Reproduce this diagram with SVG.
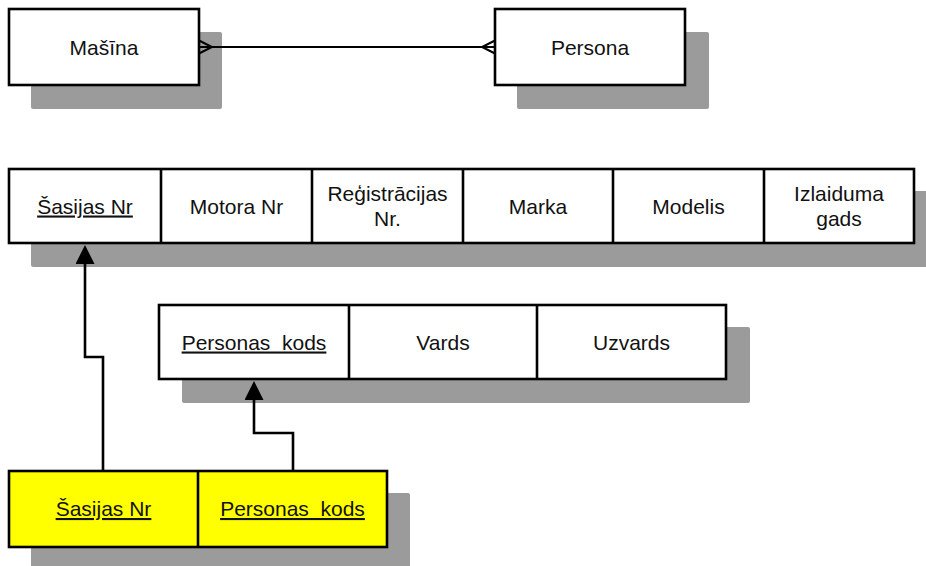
<svg xmlns="http://www.w3.org/2000/svg" width="926" height="566" viewBox="0 0 926 566">
<style>
.sh{fill:#9b9b9b;}
.bx{fill:#ffffff;stroke:#000;stroke-width:2.6;}
.yl{fill:#ffff00;stroke:#000;stroke-width:2.6;}
.dv{stroke:#000;stroke-width:2.6;}
.t{font-family:"Liberation Sans",Arial,sans-serif;font-size:21px;fill:#111;text-anchor:middle;}
.u{text-decoration:underline;}
.cn{fill:none;stroke:#000;stroke-width:2.6;}
.rl{fill:none;stroke:#000;stroke-width:2;}
</style>
<defs>
<marker id="arr" markerUnits="userSpaceOnUse" markerWidth="20" markerHeight="20" refX="0" refY="9.5" orient="auto">
<path d="M0,0 L19,9.5 L0,19 Z" fill="#000"/>
</marker>
</defs>
<rect width="926" height="566" fill="#fff"/>

<g id="masina">
<rect class="sh" x="31" y="32" width="191" height="77" rx="2"/>
<rect class="bx" x="9" y="9" width="190" height="76"/>
<text class="t" x="104" y="54.5">Mašīna</text>
</g>

<g id="persona">
<rect class="sh" x="517" y="32" width="192" height="77" rx="2"/>
<rect class="bx" x="495" y="9" width="190" height="76"/>
<text class="t" x="590" y="54.5">Persona</text>
</g>

<g id="masina-table">
<rect class="sh" x="31" y="191" width="905" height="76" rx="2"/>
<rect class="bx" x="9" y="169" width="905" height="74"/>
<line class="dv" x1="161" y1="169" x2="161" y2="243"/>
<line class="dv" x1="312" y1="169" x2="312" y2="243"/>
<line class="dv" x1="463" y1="169" x2="463" y2="243"/>
<line class="dv" x1="613" y1="169" x2="613" y2="243"/>
<line class="dv" x1="764" y1="169" x2="764" y2="243"/>
<text class="t u" x="85" y="213.5">Šasijas Nr</text>
<text class="t" x="236.5" y="213.5">Motora Nr</text>
<text class="t" x="387.5" y="200.5">Reģistrācijas</text>
<text class="t" x="387.5" y="225.5">Nr.</text>
<text class="t" x="538" y="213.5">Marka</text>
<text class="t" x="688.5" y="213.5">Modelis</text>
<text class="t" x="839" y="200.5">Izlaiduma</text>
<text class="t" x="839" y="225.5">gads</text>
</g>

<g id="persona-table">
<rect class="sh" x="182" y="327" width="568" height="76" rx="2"/>
<rect class="bx" x="159" y="305" width="567" height="74"/>
<line class="dv" x1="349" y1="305" x2="349" y2="379"/>
<line class="dv" x1="537" y1="305" x2="537" y2="379"/>
<text class="t u" x="254" y="349.5" xml:space="preserve">Personas  kods</text>
<text class="t" x="443" y="349.5">Vards</text>
<text class="t" x="631.5" y="349.5">Uzvards</text>
</g>

<g id="link-table">
<rect class="sh" x="31" y="493" width="379" height="76" rx="2"/>
<rect class="yl" x="9" y="471" width="378" height="76"/>
<line class="dv" x1="198" y1="471" x2="198" y2="547"/>
<text class="t u" x="103.5" y="516">Šasijas Nr</text>
<text class="t u" x="292.5" y="516" xml:space="preserve">Personas  kods</text>
</g>

<g id="connectors">
<path class="rl" d="M199,47 H495"/>
<path class="rl" d="M199,40.5 L212,47 L199,53.5"/>
<path class="rl" d="M495,40.5 L482,47 L495,53.5"/>
<path class="cn" d="M103,471 V357 H85 V264" marker-end="url(#arr)"/>
<path class="cn" d="M293,471 V433 H254 V400" marker-end="url(#arr)"/>
</g>
</svg>
